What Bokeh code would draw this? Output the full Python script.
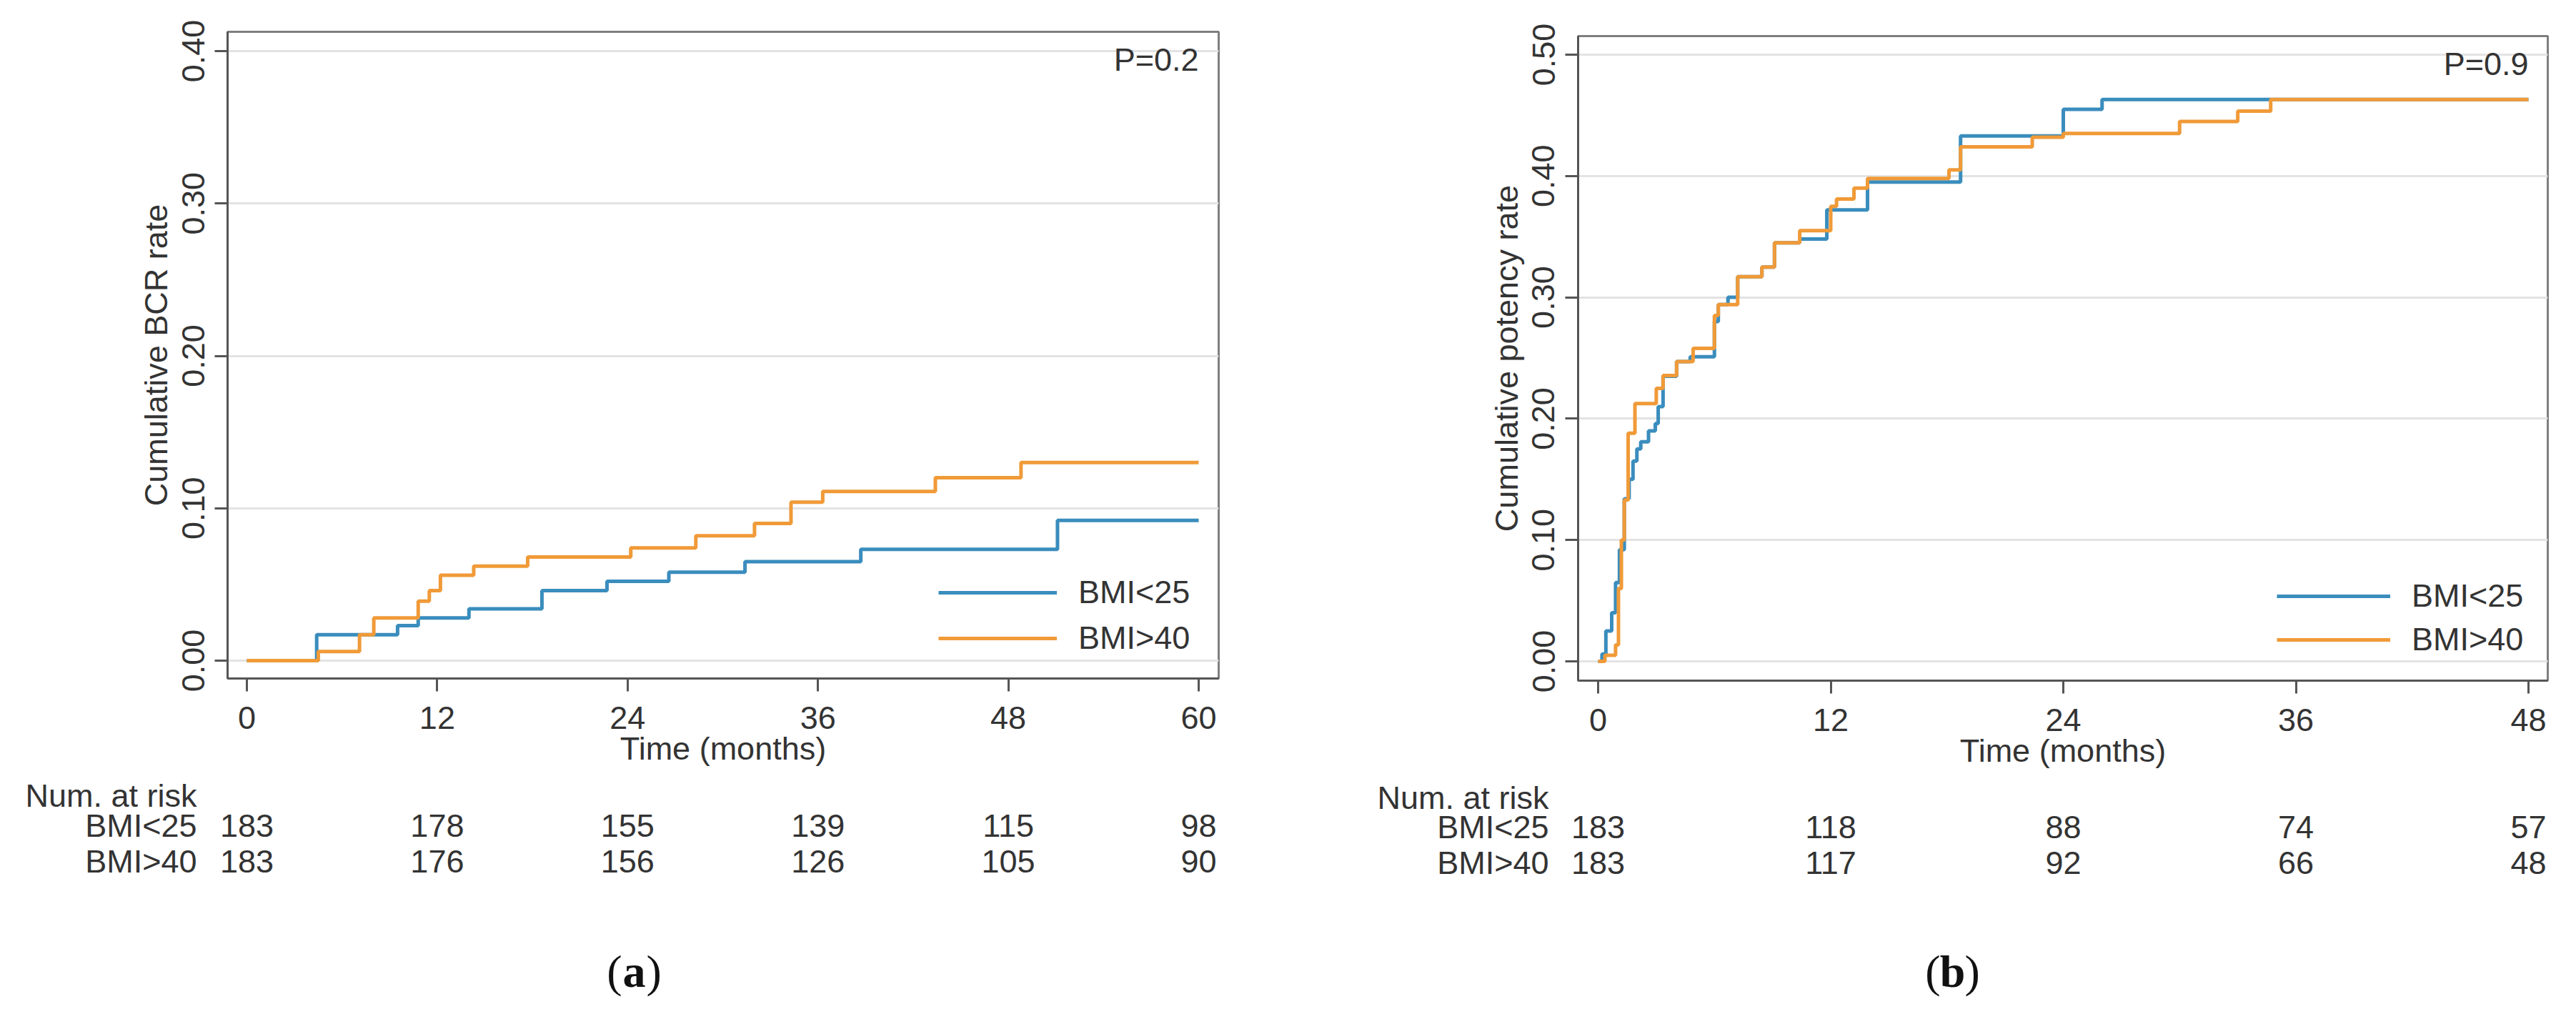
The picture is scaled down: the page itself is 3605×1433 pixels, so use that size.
import math
from bokeh.plotting import figure
from bokeh.models import Range1d, FixedTicker, NumeralTickFormatter, Legend, LegendItem
from bokeh.layouts import row, column
from bokeh.embed import file_html
from bokeh.resources import INLINE
from bokeh.core.properties import value

# ------------------------------------------------------------------ data
groups = ["BMI<25", "BMI>40"]
risk_header = "Num. at risk"

# (a) cumulative BCR rate (step functions, months)
bcr_months_bmi25 = [0, 4.4, 9.5, 10.8, 14.0, 18.6, 22.7, 26.6, 31.4, 38.7, 51.1, 60]
bcr_rate_bmi25 = [0, 0.017, 0.023, 0.028, 0.034, 0.046, 0.052, 0.058, 0.065, 0.073, 0.092, 0.092]
bcr_months_bmi40 = [0, 4.5, 7.1, 8.0, 10.8, 11.5, 12.2, 14.3, 17.7, 24.2, 28.3, 32.0, 34.3, 36.3, 43.4, 48.8, 60]
bcr_rate_bmi40 = [0, 0.006, 0.017, 0.028, 0.039, 0.046, 0.056, 0.062, 0.068, 0.074, 0.082, 0.090, 0.104, 0.111, 0.120, 0.130, 0.130]

# (b) cumulative potency rate
pot_months_bmi25 = [0, 0.2, 0.4, 0.7, 0.9, 1.1, 1.35, 1.6, 1.8, 2.0, 2.2, 2.6, 2.95, 3.1, 3.35, 4.05, 4.75,
                    6.0, 6.2, 6.7, 7.2, 8.45, 9.1, 10.4, 11.8, 13.9, 18.7, 24.0, 26.0, 48]
pot_rate_bmi25 = [0, 0.006, 0.025, 0.04, 0.065, 0.092, 0.134, 0.15, 0.165, 0.175, 0.181, 0.19, 0.196, 0.21, 0.235, 0.247, 0.251,
                  0.28, 0.294, 0.30, 0.317, 0.325, 0.345, 0.348, 0.372, 0.395, 0.433, 0.455, 0.463, 0.463]
pot_months_bmi40 = [0, 0.35, 0.9, 1.05, 1.2, 1.35, 1.55, 1.9, 3.0, 3.35, 4.05, 4.9, 6.0, 6.2, 7.2, 8.45, 9.1,
                    10.4, 12.0, 12.3, 13.2, 13.9, 18.1, 18.7, 22.4, 24.0, 30.0, 33.0, 34.7, 48]
pot_rate_bmi40 = [0, 0.005, 0.0135, 0.06, 0.10, 0.133, 0.188, 0.2125, 0.225, 0.2355, 0.247, 0.258, 0.285, 0.294, 0.317, 0.325, 0.345,
                  0.355, 0.375, 0.381, 0.39, 0.398, 0.405, 0.424, 0.432, 0.435, 0.445, 0.4535, 0.463, 0.463]

# number at risk
risk_months_a = [0, 12, 24, 36, 48, 60]
risk_bmi25_a = [183, 178, 155, 139, 115, 98]
risk_bmi40_a = [183, 176, 156, 126, 105, 90]
risk_months_b = [0, 12, 24, 36, 48]
risk_bmi25_b = [183, 118, 88, 74, 57]
risk_bmi40_b = [183, 117, 92, 66, 48]

yticks_a = [0, 0.1, 0.2, 0.3, 0.4]
yticks_b = [0, 0.1, 0.2, 0.3, 0.4, 0.5]

# ------------------------------------------------------------------ style
FONT = "Liberation Sans"
SERIF = "Liberation Serif"
TXT = "#333333"
BLUE = "#3a8dbd"
ORANGE = "#f09a38"
FS = "45px"
ROW_PITCH = 50
PAGE_BOTTOM = 1420


def lin_range(v0, p0, v1, p1, pa, pb):
    k = (p1 - p0) / (v1 - v0)
    return Range1d(v0 + (pa - p0) / k, v0 + (pb - p0) / k)


def no_align(fig):
    if "frame_align" in fig.properties():
        fig.frame_align = False


def style_axis(ax):
    ax.minor_tick_line_color = None
    ax.major_tick_in = 0
    ax.major_tick_out = 18
    ax.major_tick_line_width = 3
    ax.major_tick_line_color = "#555555"
    ax.axis_line_width = 3
    ax.axis_line_color = "#555555"
    ax.major_label_text_font = FONT
    ax.major_label_text_font_size = FS
    ax.major_label_text_color = TXT
    ax.axis_label_text_font = FONT
    ax.axis_label_text_font_size = FS
    ax.axis_label_text_font_style = "normal"
    ax.axis_label_text_color = TXT


def panel(L):
    # ---------------- main KM plot
    xr = lin_range(0, L["x0px"], L["xt"][-1], L["xendpx"], L["fl"], L["fr"])
    yr = lin_range(0, L["y0px"], L["yt"][-1], L["ytoppx"], L["fb"], L["ft"])
    p = figure(frame_width=L["fr"] - L["fl"], frame_height=L["fb"] - L["ft"],
               min_border_left=L["fl"] - L["colx"], min_border_right=L["colr"] - L["fr"],
               min_border_top=L["ft"] - 8, min_border_bottom=L["bb"],
               x_range=xr, y_range=yr, output_backend="svg", toolbar_location=None,
               background_fill_color="white", border_fill_color="white")
    no_align(p)
    p.outline_line_color = "#7f7f7f"
    p.outline_line_width = 3
    p.xgrid.visible = False
    p.ygrid.grid_line_color = "#e3e3e3"
    p.ygrid.grid_line_width = 3

    style_axis(p.xaxis[0])
    style_axis(p.yaxis[0])

    p.xaxis.ticker = FixedTicker(ticks=L["xt"])
    p.xaxis.major_label_standoff = 21
    p.xaxis.axis_label = "Time (months)"
    p.xaxis.axis_label_standoff = -1

    p.yaxis.ticker = FixedTicker(ticks=L["yt"])
    p.yaxis.formatter = NumeralTickFormatter(format="0.00")
    p.yaxis.major_label_orientation = "parallel"
    p.yaxis.major_label_standoff = 15
    p.yaxis.axis_label = L["ylabel"]
    p.yaxis.axis_label_standoff = 8

    r1 = p.step(L["t1"], L["v1"], mode="after", line_color=BLUE, line_width=5)
    r2 = p.step(L["t2"], L["v2"], mode="after", line_color=ORANGE, line_width=5)

    leg = Legend(items=[LegendItem(label=groups[0], renderers=[r1]),
                        LegendItem(label=groups[1], renderers=[r2])],
                 location=L["legloc"], orientation="vertical",
                 glyph_width=L["glw"], glyph_height=50, label_height=50,
                 label_standoff=30, spacing=L["legsp"], padding=0, margin=0,
                 border_line_alpha=0, background_fill_alpha=0,
                 label_text_font=FONT, label_text_font_size=FS, label_text_color=TXT)
    p.add_layout(leg)

    p.text(x=[L["xt"][-1]], y=[yr.end], text=[L["ptxt"]], y_offset=39,
           text_align="right", text_baseline="middle",
           text_font=value(FONT), text_font_size=FS, text_color=TXT)

    # ---------------- number-at-risk table
    main_bottom = L["fb"] + L["bb"]
    tfl = L["tfl"]
    txr = lin_range(0, L["x0px"], L["xt"][-1], L["xendpx"], tfl, L["fr"])
    tyr = lin_range(0, L["hdr"], -1, L["hdr"] + ROW_PITCH, PAGE_BOTTOM, main_bottom)
    t = figure(frame_width=L["fr"] - tfl, frame_height=PAGE_BOTTOM - main_bottom,
               min_border_left=tfl - L["colx"], min_border_right=L["colr"] - L["fr"],
               min_border_top=0, min_border_bottom=0,
               x_range=txr, y_range=tyr, x_axis_location=None, y_axis_location="left",
               output_backend="svg", toolbar_location=None)
    no_align(t)
    t.grid.visible = False
    t.outline_line_color = None
    ya = t.yaxis[0]
    style_axis(ya)
    ya.axis_line_color = None
    ya.major_tick_line_color = None
    ya.major_tick_out = 0
    ya.ticker = FixedTicker(ticks=[0, -1, -2])
    ya.major_label_overrides = {0: risk_header, -1: groups[0], -2: groups[1]}
    ya.major_label_standoff = tfl - L["rowlab"]

    for k, counts in enumerate(L["risk"]):
        yk = -(k + 1)
        t.text(x=L["xt"], y=[yk] * len(counts), text=[str(c) for c in counts],
               text_align="center", text_baseline="middle",
               text_font=value(FONT), text_font_size=FS, text_color=TXT)

    # sub-figure tag
    ly = -(L["tagy"] - L["hdr"]) / ROW_PITCH
    off = L["tagx"] - L["x0px"]
    t.text(x=[0], y=[ly], text=[L["tag"]], x_offset=off, text_align="center", text_baseline="middle",
           text_font=value(SERIF), text_font_size="64px", text_font_style="bold", text_color="#111111")
    t.text(x=[0], y=[ly], text=["("], x_offset=off - 17, text_align="right", text_baseline="middle",
           text_font=value(SERIF), text_font_size="64px", text_color="#111111")
    t.text(x=[0], y=[ly], text=[")"], x_offset=off + 17, text_align="left", text_baseline="middle",
           text_font=value(SERIF), text_font_size="64px", text_color="#111111")

    return column(p, t)


cfg_a = dict(colx=8, colr=1798, fl=326, fr=1713, ft=52, fb=957, bb=138,
             x0px=353, xendpx=1685, y0px=932, ytoppx=79,
             xt=risk_months_a, yt=yticks_a, ylabel="Cumulative BCR rate",
             t1=bcr_months_bmi25, v1=bcr_rate_bmi25, t2=bcr_months_bmi40, v2=bcr_rate_bmi40,
             legloc=(995, 30), glw=166, legsp=12, ptxt="P=0.2",
             tfl=296, hdr=1113, rowlab=283,
             risk=[risk_bmi25_a, risk_bmi40_a], tag="a", tagx=895, tagy=1367)

cfg_b = dict(colx=1798, colr=3597, fl=2216, fr=3573, ft=58, fb=960, bb=138,
             x0px=2244, xendpx=3546, y0px=933, ytoppx=84,
             xt=risk_months_b, yt=yticks_b, ylabel="Cumulative potency rate",
             t1=pot_months_bmi25, v1=pot_rate_bmi25, t2=pot_months_bmi40, v2=pot_rate_bmi40,
             legloc=(978, 31), glw=159, legsp=9, ptxt="P=0.9",
             tfl=2186, hdr=1115, rowlab=2175,
             risk=[risk_bmi25_b, risk_bmi40_b], tag="b", tagx=2740, tagy=1367)

layout = row(panel(cfg_a), panel(cfg_b))

open("out.html", "w").write(file_html(layout, INLINE))
